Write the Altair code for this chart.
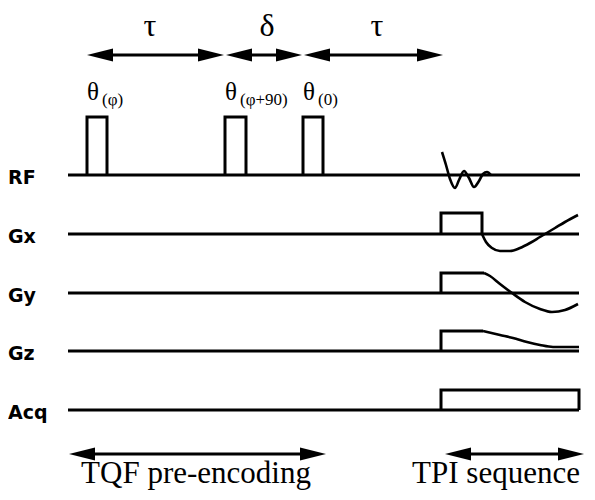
import altair as alt
import pandas as pd

# ---- data (time axis t in diagram units, amplitude upward) ----
channels = ["RF", "Gx", "Gy", "Gz", "Acq"]
baselines = [325, 266, 207, 149, 90]
line_start = [68, 68, 68, 68, 68]
line_end = [580, 579, 579, 579, 579]

pulse_starts = [87, 225, 303]
pulse_ends = [107, 246, 323]
pulse_height = [58, 58, 58]
pulse_sub = ["(φ)", "(φ+90)", "(0)"]

sinc_t = [442, 446, 450, 455, 459, 464, 469, 474, 479, 483, 487, 491]
sinc_a = [23, 10, -4, -13, -5, 4, -3, -12, -6, 1, 3, 0]

gx_rect_t = [441, 441, 482, 482]
gx_rect_a = [0, 21, 21, 0]
gx_lobe_t = [482, 486, 492, 500, 510, 520, 530, 540, 545, 555, 565, 578]
gx_lobe_a = [0, -8, -14, -17, -17, -14, -9, -3, 0, 6, 12, 19]

gy_rect_t = [441, 441, 484]
gy_rect_a = [0, 20, 20]
gy_lobe_t = [484, 490, 500, 512, 525, 540, 552, 565, 578]
gy_lobe_a = [20, 17, 9, 0, -9, -16, -19, -17, -11]

gz_rect_t = [441, 441, 483]
gz_rect_a = [0, 20, 20]
gz_lobe_t = [483, 500, 513, 527, 540, 553, 579]
gz_lobe_a = [20, 16, 13, 9, 6, 4, 4]

acq_t = [441, 441, 579, 579]
acq_a = [0, 20, 20, 0]

top_arrow_from = [87, 226, 304]
top_arrow_to = [224, 302, 443]
top_labels = ["τ", "δ", "τ"]
top_label_t = [150, 267, 377]
top_level = 445

bottom_arrow_from = [69, 445]
bottom_arrow_to = [326, 584]
bottom_labels = ["TQF pre-encoding", "TPI sequence"]
bottom_label_t = [196, 496]
bottom_level = 46

# ---- build tables ----
lin_rows, smooth_rows = [], []


def add(rows, name, ts, amps, base):
    for i, (t, a) in enumerate(zip(ts, amps)):
        rows.append({"g": name, "o": i, "x": t, "y": base + a})


for c, b, s, e in zip(channels, baselines, line_start, line_end):
    add(lin_rows, "base_" + c, [s, e], [0, 0], b)
for k, (s, e, h) in enumerate(zip(pulse_starts, pulse_ends, pulse_height)):
    add(lin_rows, f"pulse{k}", [s, s, e, e], [0, h, h, 0], baselines[0])
add(smooth_rows, "sinc", sinc_t, sinc_a, baselines[0])
add(lin_rows, "gx_rect", gx_rect_t, gx_rect_a, baselines[1])
add(smooth_rows, "gx_lobe", gx_lobe_t, gx_lobe_a, baselines[1])
add(lin_rows, "gy_rect", gy_rect_t, gy_rect_a, baselines[2])
add(smooth_rows, "gy_lobe", gy_lobe_t, gy_lobe_a, baselines[2])
add(lin_rows, "gz_rect", gz_rect_t, gz_rect_a, baselines[3])
add(smooth_rows, "gz_lobe", gz_lobe_t, gz_lobe_a, baselines[3])
add(lin_rows, "acq", acq_t, acq_a, baselines[4])

lin_df = pd.DataFrame(lin_rows)
smooth_df = pd.DataFrame(smooth_rows)

arrows = pd.DataFrame(
    {
        "x1": top_arrow_from + bottom_arrow_from,
        "x2": top_arrow_to + bottom_arrow_to,
        "y": [top_level] * 3 + [bottom_level] * 2,
    }
)
arrows["s1"] = arrows["x1"] + 12
arrows["s2"] = arrows["x2"] - 12

heads_left = pd.DataFrame({"x": arrows["x1"], "y": arrows["y"]})
heads_right = pd.DataFrame({"x": arrows["x2"], "y": arrows["y"]})

top_text = pd.DataFrame({"x": top_label_t, "y": [474] * 3, "t": top_labels})
bottom_text = pd.DataFrame({"x": bottom_label_t, "y": [17] * 2, "t": bottom_labels})
theta_df = pd.DataFrame({"x": pulse_starts, "y": [400] * 3, "t": ["θ"] * 3})
sub_df = pd.DataFrame({"x": [s + 15 for s in pulse_starts], "y": [395] * 3, "t": pulse_sub})
chan_df = pd.DataFrame({"x": [8] * 5, "y": [b - 3 for b in baselines], "t": channels})

xs = alt.Scale(domain=[8, 587], nice=False, zero=False)
ys = alt.Scale(domain=[8, 492], nice=False, zero=False)
X = lambda f="x": alt.X(f + ":Q", scale=xs, axis=None)
Y = lambda f="y": alt.Y(f + ":Q", scale=ys, axis=None)

lines = alt.Chart(lin_df).mark_line(color="black", strokeWidth=3, strokeJoin="miter").encode(
    x=X(), y=Y(), detail="g:N", order="o:Q"
)
curves = alt.Chart(smooth_df).mark_line(color="black", strokeWidth=2.6, interpolate="monotone").encode(
    x=X(), y=Y(), detail="g:N", order="o:Q"
)
shafts = alt.Chart(arrows).mark_rule(color="black", strokeWidth=3).encode(
    x=X("s1"), x2="s2:Q", y=Y()
)
left_heads = alt.Chart(heads_left).mark_point(
    shape="M0,0L2,-0.5L2,0.5Z", filled=True, color="black", opacity=1, size=676, strokeWidth=0
).encode(x=X(), y=Y())
right_heads = alt.Chart(heads_right).mark_point(
    shape="M0,0L-2,-0.5L-2,0.5Z", filled=True, color="black", opacity=1, size=676, strokeWidth=0
).encode(x=X(), y=Y())

serif = "Liberation Serif"
t_top = alt.Chart(top_text).mark_text(font=serif, fontSize=32, baseline="middle", align="center").encode(
    x=X(), y=Y(), text="t:N"
)
t_bottom = alt.Chart(bottom_text).mark_text(font=serif, fontSize=31, baseline="alphabetic", align="center").encode(
    x=X(), y=Y(), text="t:N"
)
t_theta = alt.Chart(theta_df).mark_text(font=serif, fontSize=25, baseline="alphabetic", align="left").encode(
    x=X(), y=Y(), text="t:N"
)
t_sub = alt.Chart(sub_df).mark_text(font=serif, fontSize=17, baseline="alphabetic", align="left").encode(
    x=X(), y=Y(), text="t:N"
)
t_chan = alt.Chart(chan_df).mark_text(
    font="DejaVu Sans", fontWeight="bold", fontSize=19, baseline="middle", align="left"
).encode(x=X(), y=Y(), text="t:N")

chart = (
    alt.layer(lines, curves, shafts, left_heads, right_heads, t_top, t_bottom, t_theta, t_sub, t_chan)
    .properties(
        width=579,
        height=484,
        padding={"left": 0, "top": 0, "right": 0, "bottom": 0},
        autosize=alt.AutoSizeParams(type="none"),
    )
    .configure_view(stroke=None, clip=False)
)

chart.save("out.html", embed_options={"renderer": "svg", "actions": False})
